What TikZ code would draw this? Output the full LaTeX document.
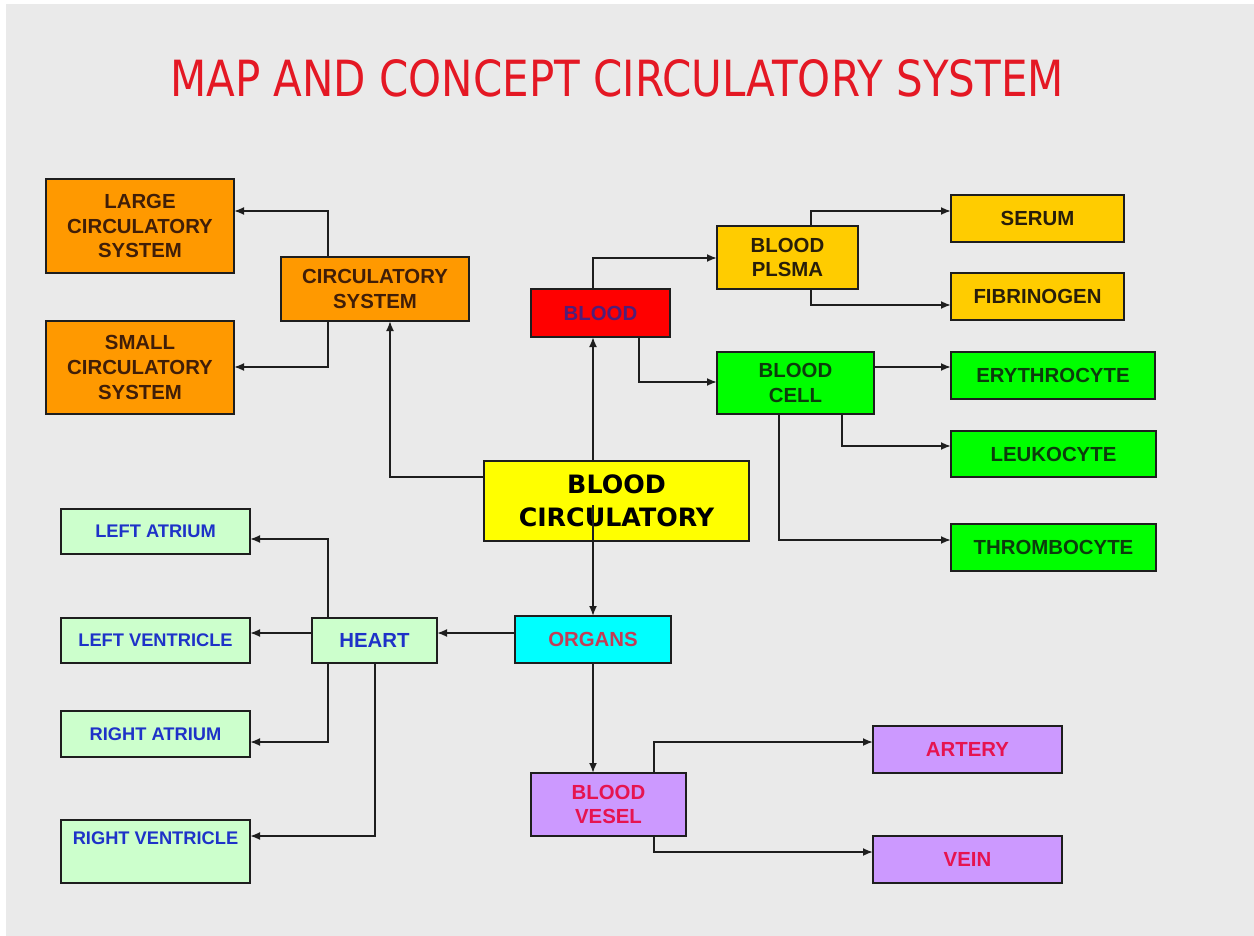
\documentclass[tikz,border=0pt]{standalone}
\usepackage{fontspec}
\usepackage{graphicx}
\setmainfont{Liberation Sans}
\newfontfamily\comicfont{DejaVu Sans}
\usetikzlibrary{arrows.meta,calc}
\definecolor{bggray}{RGB}{234,234,234}
\definecolor{titlered}{RGB}{228,24,36}
\definecolor{bordercol}{RGB}{30,30,30}
\definecolor{linecol}{RGB}{30,30,30}
\definecolor{orangefill}{RGB}{255,153,0}
\definecolor{goldfill}{RGB}{255,204,0}
\definecolor{redfill}{RGB}{255,0,0}
\definecolor{greenfill}{RGB}{0,255,0}
\definecolor{yellowfill}{RGB}{255,255,0}
\definecolor{cyanfill}{RGB}{0,255,255}
\definecolor{lgreenfill}{RGB}{204,255,204}
\definecolor{purplefill}{RGB}{204,153,255}
\definecolor{browntext}{RGB}{64,30,8}
\definecolor{darktext}{RGB}{40,30,10}
\definecolor{bloodtext}{RGB}{80,30,120}
\definecolor{greentext}{RGB}{12,60,12}
\definecolor{bluetext}{RGB}{30,50,200}
\definecolor{organtext}{RGB}{195,60,85}
\definecolor{crimsontext}{RGB}{230,20,80}
\newcommand\mybox[7]{%
  \pgfmathsetmacro\mbw{(#4-#2)*0.02}%
  \pgfmathsetmacro\mbh{(#5-#3)*0.02}%
  \node[#6,minimum width=\mbw cm,minimum height=\mbh cm] (#1) at ({(#2+#4)/2},{(#3+#5)/2}) {#7};}
\begin{document}
\begin{tikzpicture}[x=0.02cm,y=-0.02cm,
  box/.style={draw=bordercol, line width=1.1pt, inner sep=0pt, outer sep=0pt, align=center,
    font=\bfseries\fontsize{11.6}{14}\selectfont},
  orangebox/.style={box, fill=orangefill, text=browntext},
  goldbox/.style={box, fill=goldfill, text=darktext},
  redbox/.style={box, fill=redfill, text=bloodtext},
  greenbox/.style={box, fill=greenfill, text=greentext},
  yellowbox/.style={box, fill=yellowfill, text=black, font=\comicfont\bfseries\fontsize{14.4}{18.7}\selectfont},
  cyanbox/.style={box, fill=cyanfill, text=organtext},
  lgreenbox/.style={box, fill=lgreenfill, text=bluetext, font=\bfseries\fontsize{10.4}{13}\selectfont},
  heartbox/.style={box, fill=lgreenfill, text=bluetext},
  purplebox/.style={box, fill=purplefill, text=crimsontext},
  arr/.style={draw=linecol, line width=1.05pt, -{Latex[length=2mm,width=1.6mm]}}]
\useasboundingbox (0,0) rectangle (1254,936);
\fill[white] (0,0) rectangle (1254,936);
\fill[bggray] (6,4) rectangle (1254,936);

\node[inner sep=0pt, text=titlered] (title) at (617,78.5)
  {\resizebox{17.88cm}{0.74cm}{\comicfont MAP AND CONCEPT CIRCULATORY SYSTEM}};

\mybox{large}{46}{179}{234}{273}{orangebox}{LARGE\\CIRCULATORY\\SYSTEM}
\mybox{small}{46}{321}{234}{414}{orangebox}{SMALL\\CIRCULATORY\\SYSTEM}
\mybox{cs}{281}{257}{469}{321}{orangebox}{CIRCULATORY\\SYSTEM}
\mybox{blood}{531}{289}{670}{337}{redbox}{BLOOD}
\mybox{plsma}{717}{226}{858}{289}{goldbox}{BLOOD\\PLSMA}
\mybox{serum}{951}{195}{1124}{242}{goldbox}{SERUM}
\mybox{fib}{951}{273}{1124}{320}{goldbox}{FIBRINOGEN}
\mybox{cell}{717}{352}{874}{414}{greenbox}{BLOOD\\CELL}
\mybox{ery}{951}{352}{1155}{399}{greenbox}{ERYTHROCYTE}
\mybox{leuko}{951}{431}{1156}{477}{greenbox}{LEUKOCYTE}
\mybox{thr}{951}{524}{1156}{571}{greenbox}{THROMBOCYTE}
\mybox{bc}{484}{461}{749}{541}{yellowbox}{BLOOD\\CIRCULATORY}
\mybox{la}{61}{509}{250}{554}{lgreenbox}{LEFT ATRIUM}
\mybox{lv}{61}{618}{250}{663}{lgreenbox}{LEFT VENTRICLE}
\mybox{ra}{61}{711}{250}{757}{lgreenbox}{RIGHT ATRIUM}
\mybox{rv}{61}{820}{250}{883}{lgreenbox,text height=7pt,text depth=15pt}{RIGHT VENTRICLE}
\mybox{heart}{312}{618}{437}{663}{heartbox}{HEART}
\mybox{organs}{515}{616}{671}{663}{cyanbox}{ORGANS}
\mybox{vesel}{531}{773}{686}{836}{purplebox}{BLOOD\\VESEL}
\mybox{artery}{873}{726}{1062}{773}{purplebox}{ARTERY}
\mybox{vein}{873}{836}{1062}{883}{purplebox}{VEIN}

% connectors
\draw[arr] ($(cs.north west)+(47,0)$) |- ($(large.north east)+(0,32)$);
\draw[arr] ($(cs.south west)+(47,0)$) |- ($(small.north east)+(0,46)$);
\draw[arr] ($(bc.north west)+(0,16)$) -| ($(cs.south west)+(109,0)$);
\draw[arr] ($(bc.north west)+(109,0)$) -- ($(blood.south west)+(62,0)$);
\draw[arr] ($(blood.north west)+(62,0)$) |- ($(plsma.north west)+(0,32)$);
\draw[arr] ($(plsma.north west)+(94,0)$) |- ($(serum.north west)+(0,16)$);
\draw[arr] ($(plsma.south west)+(94,0)$) |- ($(fib.north west)+(0,32)$);
\draw[arr] ($(blood.south west)+(108,0)$) |- ($(cell.north west)+(0,30)$);
\draw[arr] ($(cell.north east)+(0,15)$) -- ($(ery.north west)+(0,15)$);
\draw[arr] ($(cell.south west)+(125,0)$) |- ($(leuko.north west)+(0,15)$);
\draw[arr] ($(cell.south west)+(62,0)$) |- ($(thr.north west)+(0,16)$);
\draw[arr] ($(bc.north west)+(109,44)$) -- ($(organs.north west)+(78,0)$);
\draw[arr] ($(organs.north west)+(0,17)$) -- ($(heart.north east)+(0,15)$);
\draw[arr] ($(heart.north west)+(16,0)$) |- ($(la.north east)+(0,30)$);
\draw[arr] ($(heart.north west)+(0,15)$) -- ($(lv.north east)+(0,15)$);
\draw[arr] ($(heart.south west)+(16,0)$) |- ($(ra.north east)+(0,31)$);
\draw[arr] ($(heart.south west)+(63,0)$) |- ($(rv.north east)+(0,16)$);
\draw[arr] ($(organs.south west)+(78,0)$) -- ($(vesel.north west)+(62,0)$);
\draw[arr] ($(vesel.north west)+(123,0)$) |- ($(artery.north west)+(0,16)$);
\draw[arr] ($(vesel.south west)+(123,0)$) |- ($(vein.north west)+(0,16)$);
\end{tikzpicture}
\end{document}
